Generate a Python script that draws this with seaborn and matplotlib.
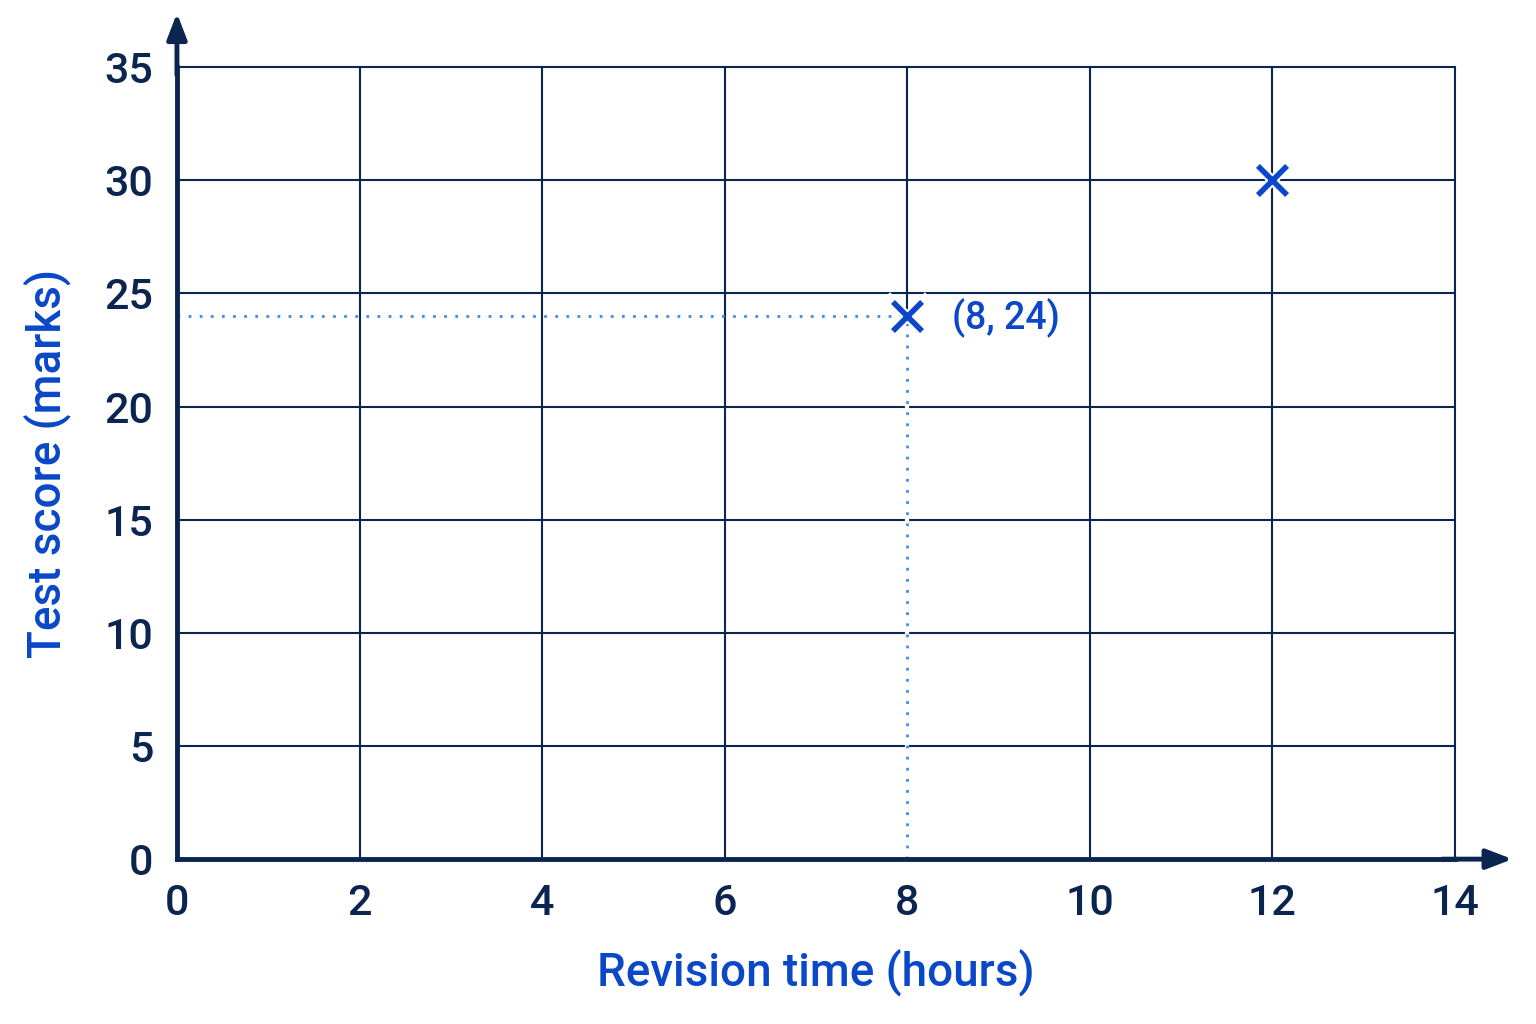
import numpy as np
import pandas as pd
import matplotlib.pyplot as plt
import matplotlib.patheffects as pe
import seaborn as sns

sns.set_theme(style="white")
plt.rcParams['font.family'] = ['Roboto', 'DejaVu Sans']

# data
hours = [8, 12]
scores = [24, 30]
x_ticks = [0, 2, 4, 6, 8, 10, 12, 14]
y_ticks = [0, 5, 10, 15, 20, 25, 30, 35]
point_label = "(8, 24)"

navy = "#0c2450"
blue = "#0a47c9"
dot_blue = "#3b8ef0"

df = pd.DataFrame({"hours": hours, "score": scores})

fig = plt.figure(figsize=(15.36, 10.24), dpi=100)
ax = fig.add_axes([0.1152, 0.161, 0.832, 0.7735])

ax.set_xlim(0, 14)
ax.set_ylim(0, 35)
ax.set_xticks(x_ticks)
ax.set_yticks(y_ticks)

ax.grid(True, color=navy, linewidth=1.5)
for gl in ax.get_xgridlines() + ax.get_ygridlines():
    gl.set_clip_on(False)
ax.set_axisbelow(True)

for side in ["top", "right"]:
    ax.spines[side].set_visible(False)
for side in ["left", "bottom"]:
    ax.spines[side].set_color(navy)
    ax.spines[side].set_linewidth(3.5)
    ax.spines[side].set_zorder(3)

ax.tick_params(axis="both", direction="out", length=10, width=2, color=navy,
               labelcolor=navy, labelsize=31, pad=7)
for lab in ax.get_xticklabels() + ax.get_yticklabels():
    lab.set_fontweight("medium")

# axis arrows
ax.annotate("", xy=(0, 1.068), xytext=(0, 0.99), xycoords="axes fraction",
            arrowprops=dict(arrowstyle="-|>,head_length=1.3,head_width=0.5",
                            color=navy, lw=3.5, shrinkA=0, shrinkB=0),
            annotation_clip=False)
ax.annotate("", xy=(1.045, 0), xytext=(0.99, 0), xycoords="axes fraction",
            arrowprops=dict(arrowstyle="-|>,head_length=1.3,head_width=0.5",
                            color=navy, lw=3.5, shrinkA=0, shrinkB=0),
            annotation_clip=False)

# dotted guides to (8, 24); hide the grid line under the vertical guide
ax.plot([hours[0], hours[0]], [0.2, scores[0]], color="white", lw=3, zorder=1.5)
ax.plot([0, hours[0]], [scores[0], scores[0]], color=dot_blue, lw=2,
        linestyle=(0, (1, 3)), zorder=2)
ax.plot([hours[0], hours[0]], [0, scores[0]], color=dot_blue, lw=2,
        linestyle=(0, (1, 3)), zorder=2)

# white halo behind the crosses so the grid breaks around them
sns.scatterplot(data=df, x="hours", y="score", marker="x", s=900,
                color="white", linewidth=7, ax=ax, zorder=4, clip_on=False,
                legend=False)
sns.scatterplot(data=df, x="hours", y="score", marker="x", s=440,
                color=blue, linewidth=4, ax=ax, zorder=5, clip_on=False,
                legend=False)

ax.annotate(point_label, xy=(hours[0], scores[0]), xytext=(32, -1),
            textcoords="offset points", color=blue, fontsize=27,
            fontweight="medium", va="center", ha="left")

ax.set_xlabel("Revision time (hours)", color=blue, fontsize=33,
              fontweight="medium", labelpad=18)
ax.set_ylabel("Test score (marks)", color=blue, fontsize=33,
              fontweight="medium", labelpad=24)

fig.savefig("out.png", dpi=100, facecolor="white")
